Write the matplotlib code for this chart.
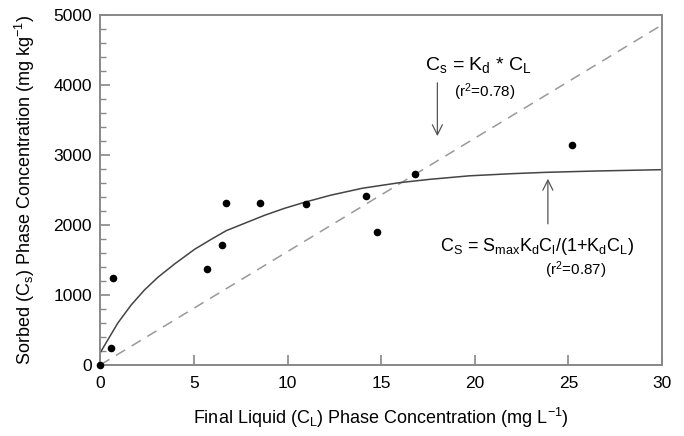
import numpy as np
import matplotlib
matplotlib.use('Agg')
import matplotlib.pyplot as plt
from matplotlib.ticker import MultipleLocator

plt.rcParams['font.family'] = ['Liberation Sans', 'DejaVu Sans']
plt.rcParams['mathtext.fontset'] = 'custom'
plt.rcParams['mathtext.rm'] = 'Liberation Sans'
plt.rcParams['mathtext.it'] = 'Liberation Sans'
plt.rcParams['mathtext.default'] = 'regular'
plt.rcParams['axes.unicode_minus'] = False

# ── Observed data ─────────────────────────────────────────────
c_liquid = [0.0, 0.55, 0.7, 5.7, 6.5, 6.7, 8.55, 11.0, 14.2, 14.8, 16.8, 25.2]
c_sorbed = [0, 240, 1240, 1375, 1720, 2320, 2310, 2300, 2410, 1900, 2730, 3140]

# ── Fitted curves ─────────────────────────────────────────────
linear_x = [0, 30]
linear_y = [0, 4860]

langmuir_x = [0, 0.4, 0.93, 1.65, 2.36, 3.08, 3.97, 5.04, 5.93, 6.73, 7.71,
              8.78, 9.85, 10.92, 12.3, 14.0, 16.0, 17.6, 19.7, 22.0, 23.8,
              26.5, 30.0]
langmuir_y = [176, 357, 596, 857, 1071, 1253, 1443, 1653, 1796, 1919, 2024,
              2139, 2239, 2325, 2425, 2525, 2605, 2652, 2702, 2733, 2752,
              2771, 2790]

fig = plt.figure(figsize=(6.84, 4.36), dpi=100)
ax = fig.add_axes([0.1466, 0.163, 0.8214, 0.8026])

ax.plot(linear_x, linear_y, color='#999999', lw=1.1, ls=(0, (7, 5)))
ax.plot(langmuir_x, langmuir_y, color='#444444', lw=1.1)
ax.scatter(c_liquid, c_sorbed, s=20, color='black', zorder=5, clip_on=False)

ax.set_xlim(0, 30)
ax.set_ylim(0, 5000)
ax.xaxis.set_major_locator(MultipleLocator(5))
ax.yaxis.set_major_locator(MultipleLocator(1000))
ax.yaxis.set_minor_locator(MultipleLocator(200))

for s in ax.spines.values():
    s.set_color('#888888')
    s.set_linewidth(1.4)
ax.tick_params(axis='both', which='major', direction='in', length=7,
               width=1.2, color='#888888', labelsize=12.5, pad=6)
ax.tick_params(axis='y', which='minor', direction='in', length=4,
               width=1.0, color='#888888')
ax.tick_params(axis='x', pad=8)

ax.set_xlabel('Final Liquid (C$_L$) Phase Concentration (mg L$^{-1}$)',
              fontsize=13, labelpad=11)
ax.set_ylabel('Sorbed (C$_s$) Phase Concentration (mg kg$^{-1}$)',
              fontsize=13, labelpad=12)

# ── Annotations ───────────────────────────────────────────────
ax.text(20.2, 4286, 'C$_s$ = K$_d$ * C$_L$', fontsize=14,
        ha='center', va='center')
ax.text(20.5, 3904, '(r$^2$=0.78)', fontsize=11, ha='center', va='center')
ax.annotate('', xy=(18.0, 3229), xytext=(18.0, 4071),
            arrowprops=dict(arrowstyle='->', color='#555555', lw=0.9,
                            mutation_scale=18))

ax.text(23.3, 1690, 'C$_S$ = S$_{max}$K$_d$C$_l$/(1+K$_d$C$_L$)', fontsize=13,
        ha='center', va='center')
ax.text(25.4, 1357, '(r$^2$=0.87)', fontsize=11, ha='center', va='center')
ax.annotate('', xy=(23.9, 2700), xytext=(23.9, 1976),
            arrowprops=dict(arrowstyle='->', color='#555555', lw=0.9,
                            mutation_scale=18))

fig.savefig('out.png', dpi=100)
